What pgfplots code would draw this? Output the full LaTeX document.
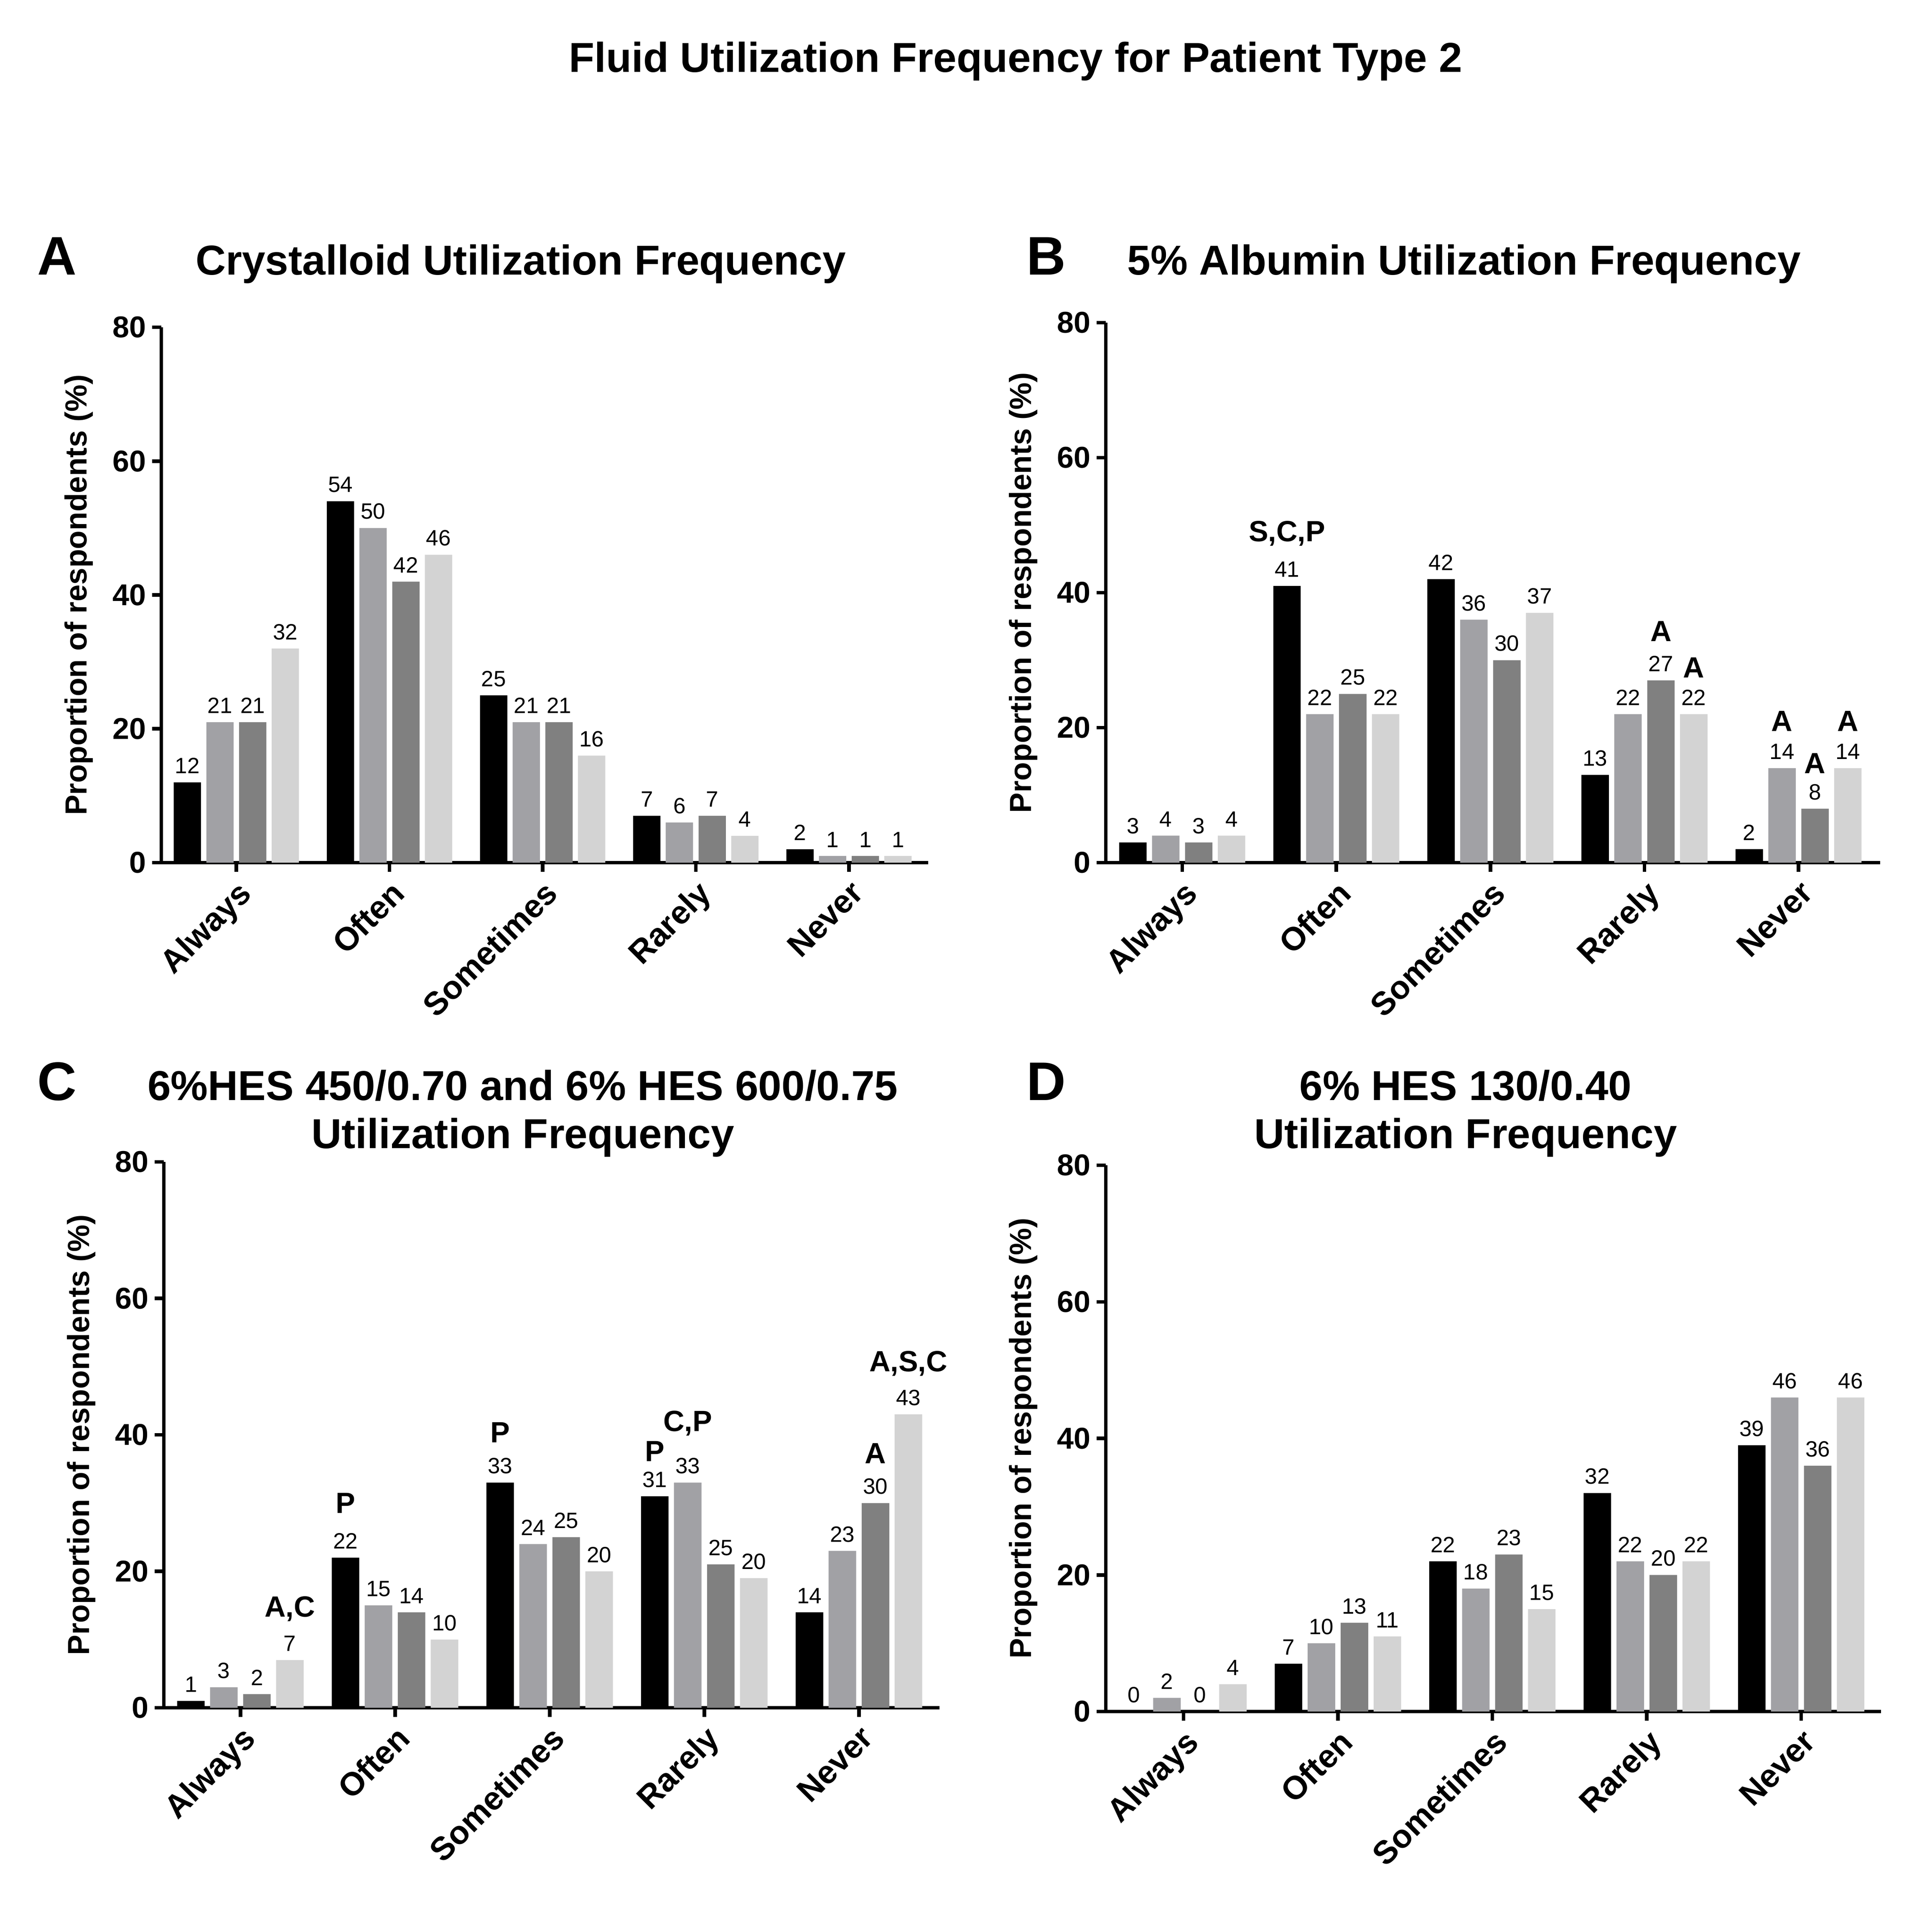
\documentclass[border=0pt]{standalone}
\usepackage{fontspec}
\setmainfont{Liberation Sans}
\usepackage{pgfplots}
\pgfplotsset{compat=1.18}
\definecolor{cB}{RGB}{0,0,0}
\definecolor{cG}{RGB}{161,161,165}
\definecolor{cD}{RGB}{128,128,128}
\definecolor{cL}{RGB}{211,211,211}
\newcommand\fs[1]{\fontsize{#1}{#1}\selectfont}
\pgfplotsset{
  panel/.style={
    ybar, scale only axis,
    axis x line*=bottom, axis y line*=left,
    axis line style={-, line width=0.87pt, black},
    ymin=0, ymax=80,
    ytick={0,20,40,60,80}, yticklabels={0,20,40,60,80},
    xtick={0,1,2,3,4}, xticklabels={Always,Often,Sometimes,Rarely,Never},
    tick align=outside, major tick length=2.2pt,
    tick style={black, line width=0.87pt},
    yticklabel style={font=\bfseries\fs{7.2}, inner sep=1.2pt},
    xticklabel style={font=\bfseries\fs{7.8}, rotate=45, anchor=north east, inner sep=1pt},
    every axis y label/.style={at={([xshift=-16.1pt]axis description cs:0,0.5)}, rotate=90, anchor=south, inner sep=0pt, font=\bfseries\fs{7.3}},
    ylabel={Proportion of respondents (\%)},
    bar width=0.178,
    clip=false,
  },
  lbl/.style={draw=none, nodes near coords, point meta=explicit symbolic,
    every node near coord/.append style={font=\fs{5.3}, inner sep=0pt, anchor=south, yshift=1.9pt, text=black}},
  ann/.style={draw=none, fill=none, nodes near coords, point meta=explicit symbolic,
    every node near coord/.append style={font=\bfseries\fs{7}, inner sep=0pt, anchor=base, text=black}},
}
\begin{document}
\begin{tikzpicture}
\useasboundingbox (0,0) rectangle (462.3pt,461.2pt);
% Titles
\node[font=\bfseries\fs{10}, anchor=base] at (243.0pt,443.9pt) {Fluid Utilization Frequency for Patient Type 2};
\node[font=\bfseries\fs{10}, anchor=base] at (124.6pt,395.4pt) {Crystalloid Utilization Frequency};
\node[font=\bfseries\fs{13}, anchor=base west, inner sep=0pt] at (8.8pt,395.4pt) {A};
\node[font=\bfseries\fs{10}, anchor=base] at (350.3pt,395.4pt) {5\% Albumin Utilization Frequency};
\node[font=\bfseries\fs{13}, anchor=base west, inner sep=0pt] at (245.4pt,395.4pt) {B};
\node[font=\bfseries\fs{10}, anchor=base] at (125.1pt,198.0pt) {6\%HES 450/0.70 and 6\% HES 600/0.75};
\node[font=\bfseries\fs{10}, anchor=base] at (125.1pt,186.5pt) {Utilization Frequency};
\node[font=\bfseries\fs{13}, anchor=base west, inner sep=0pt] at (8.8pt,198.0pt) {C};
\node[font=\bfseries\fs{10}, anchor=base] at (350.7pt,198.0pt) {6\% HES 130/0.40};
\node[font=\bfseries\fs{10}, anchor=base] at (350.7pt,186.5pt) {Utilization Frequency};
\node[font=\bfseries\fs{13}, anchor=base west, inner sep=0pt] at (245.4pt,198.0pt) {D};

% Panel A
\begin{axis}[panel, at={(38.6pt,254.8pt)}, anchor=south west, width=183.5pt, height=128.1pt, xmin=-0.49, xmax=4.517]
\addplot[lbl, fill=cB, bar shift=-0.32] coordinates {(0,12)[12] (1,54)[54] (2,25)[25] (3,7)[7] (4,2)[2]};
\addplot[lbl, fill=cG, bar shift=-0.107] coordinates {(0,21)[21] (1,50)[50] (2,21)[21] (3,6)[6] (4,1)[1]};
\addplot[lbl, fill=cD, bar shift=0.107] coordinates {(0,21)[21] (1,42)[42] (2,21)[21] (3,7)[7] (4,1)[1]};
\addplot[lbl, fill=cL, bar shift=0.32] coordinates {(0,32)[32] (1,46)[46] (2,16)[16] (3,4)[4] (4,1)[1]};
\end{axis}

% Panel B
\begin{axis}[panel, at={(264.6pt,254.8pt)}, anchor=south west, width=185.3pt, height=129.2pt, xmin=-0.496, xmax=4.53]
\addplot[lbl, fill=cB, bar shift=-0.32] coordinates {(0,3)[3] (1,41)[41] (2,42)[42] (3,13)[13] (4,2)[2]};
\addplot[lbl, fill=cG, bar shift=-0.107] coordinates {(0,4)[4] (1,22)[22] (2,36)[36] (3,22)[22] (4,14)[14]};
\addplot[lbl, fill=cD, bar shift=0.107] coordinates {(0,3)[3] (1,25)[25] (2,30)[30] (3,27)[27] (4,8)[8]};
\addplot[lbl, fill=cL, bar shift=0.32] coordinates {(0,4)[4] (1,22)[22] (2,37)[37] (3,22)[22] (4,14)[14]};
\addplot[ann, bar shift=-0.32] coordinates {(1,47.6)[S,C,P]};
\addplot[ann, bar shift=-0.107] coordinates {(4,19.5)[A]};
\addplot[ann, bar shift=0.107] coordinates {(3,32.8)[A] (4,13.2)[A]};
\addplot[ann, bar shift=0.32] coordinates {(3,27.4)[A] (4,19.5)[A]};
\end{axis}

% Panel C
\begin{axis}[panel, at={(39.2pt,52.6pt)}, anchor=south west, width=185.6pt, height=130.6pt, xmin=-0.495, xmax=4.521]
\addplot[lbl, fill=cB, bar shift=-0.32] coordinates {(0,1)[1] (1,22)[22] (2,33)[33] (3,31)[31] (4,14)[14]};
\addplot[lbl, fill=cG, bar shift=-0.107] coordinates {(0,3)[3] (1,15)[15] (2,24)[24] (3,33)[33] (4,23)[23]};
\addplot[lbl, fill=cD, bar shift=0.107] coordinates {(0,2)[2] (1,14)[14] (2,25)[25] (3,21)[25] (4,30)[30]};
\addplot[lbl, fill=cL, bar shift=0.32] coordinates {(0,7)[7] (1,10)[10] (2,20)[20] (3,19)[20] (4,43)[43]};
\addplot[ann, bar shift=-0.32] coordinates {(1,28.5)[P] (2,38.9)[P] (3,36.1)[P]};
\addplot[ann, bar shift=-0.107] coordinates {(3,40.5)[C,P]};
\addplot[ann, bar shift=0.107] coordinates {(4,35.8)[A]};
\addplot[ann, bar shift=0.32] coordinates {(0,13.3)[A,C] (4,49.3)[A,S,C]};
\end{axis}

% Panel D
\begin{axis}[panel, at={(264.6pt,51.7pt)}, anchor=south west, width=185.5pt, height=130.7pt, xmin=-0.503, xmax=4.517]
\addplot[lbl, fill=cB, bar shift=-0.32] coordinates {(0,0)[0] (1,7)[7] (2,22)[22] (3,32)[32] (4,39)[39]};
\addplot[lbl, fill=cG, bar shift=-0.107] coordinates {(0,2)[2] (1,10)[10] (2,18)[18] (3,22)[22] (4,46)[46]};
\addplot[lbl, fill=cD, bar shift=0.107] coordinates {(0,0)[0] (1,13)[13] (2,23)[23] (3,20)[20] (4,36)[36]};
\addplot[lbl, fill=cL, bar shift=0.32] coordinates {(0,4)[4] (1,11)[11] (2,15)[15] (3,22)[22] (4,46)[46]};
\end{axis}
\end{tikzpicture}
\end{document}
